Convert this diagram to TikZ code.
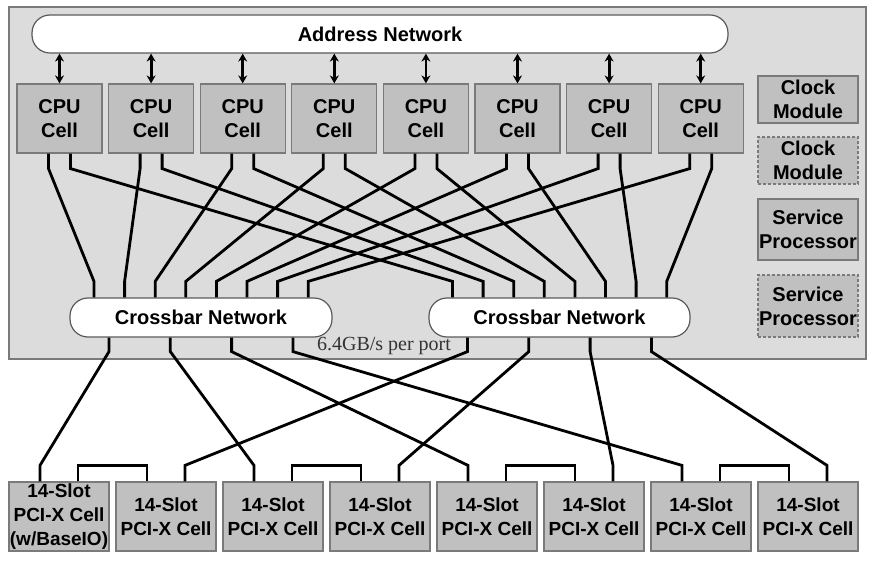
\documentclass[tikz,border=0pt]{standalone}
\usepackage{fontspec}
\setmainfont{Liberation Serif}
\newfontfamily\labelfont{Liberation Sans}
\usetikzlibrary{arrows.meta}
\definecolor{panel}{HTML}{DCDCDC}
\definecolor{cellfill}{HTML}{C0C0C0}
\definecolor{cellline}{HTML}{7A7A7A}
\definecolor{busline}{HTML}{5A5A5A}
\tikzset{
  unit/.style={draw=cellline, fill=cellfill, line width=1.2pt, inner sep=0pt, align=center,
    font=\labelfont\bfseries\fontsize{20}{24}\selectfont},
  cpucell/.style={unit, minimum width=85pt, minimum height=69pt},
  pcicell/.style={unit, minimum width=100pt, minimum height=69pt,
    font=\labelfont\bfseries\fontsize{19}{24}\selectfont},
  sidebox/.style={unit, minimum width=100pt},
  spare/.style={dash pattern=on 3pt off 2pt},
  bus/.style={draw=busline, fill=white, line width=1.2pt, rounded corners=18pt, inner sep=0pt,
    font=\labelfont\bfseries\fontsize{20}{24}\selectfont},
  link/.style={line width=2.8pt},
  biarrow/.style={line width=2.8pt, {Stealth[length=8pt,width=9pt]}-{Stealth[length=8pt,width=9pt]}}
}
\begin{document}
\begin{tikzpicture}[x=1pt, y=-1pt]
    \useasboundingbox (0,0) rectangle (869,561);

    % Cabinet backplane
    \draw[draw=cellline, fill=panel, line width=1.3pt] (9,7) rectangle (866,359);

    % Address network and CPU cells
    \node[bus, minimum width=696pt, minimum height=38pt] (addr) at (380,34) {Address Network};
    \foreach \i in {1,...,8}
        \node[cpucell] (cpu\i) at ({59.5+91.6*(\i-1)},118.5) {CPU\\Cell};
    \foreach \i in {1,...,8}
        \draw[biarrow] (cpu\i.north) -- (cpu\i.north |- addr.south);

    % Clock modules and service processors (dashed = redundant)
    \node[sidebox, minimum height=47pt] (clk1) at (808,99.5) {Clock\\Module};
    \node[sidebox, spare, minimum height=47pt] (clk2) at (808,160.5) {Clock\\Module};
    \node[sidebox, minimum height=61pt] (svc1) at (808,229.5) {Service\\Processor};
    \node[sidebox, spare, minimum height=62pt] (svc2) at (808,306) {Service\\Processor};

    % Crossbar networks
    \node[bus, minimum width=262pt, minimum height=39pt] (xbarA) at (201,317.5) {Crossbar Network};
    \node[bus, minimum width=261pt, minimum height=39pt] (xbarB) at (559.5,317.5) {Crossbar Network};
    \node[anchor=base, text=black!80, font=\fontsize{20}{24}\selectfont] (rate) at (384,350) {6.4GB/s per port};

    % CPU cell i -> port i on both crossbars
    \foreach \i in {1,...,8} {
        \pgfmathsetmacro\port{-107+30.6*(\i-1)}
        \draw[link] ([xshift=-11pt]cpu\i.south) -- ++(0,15)
            -- ([xshift=\port pt, yshift=16pt]xbarA.north) -- ([xshift=\port pt]xbarA.north);
        \draw[link] ([xshift=11pt]cpu\i.south) -- ++(0,15)
            -- ([xshift=\port pt, yshift=16pt]xbarB.north) -- ([xshift=\port pt]xbarB.north);
    }

    % PCI-X cells
    \node[pcicell] (pci1) at (59,516.5) {14-Slot\\PCI-X Cell\\(w/BaseIO)};
    \foreach \i in {2,...,8}
        \node[pcicell] (pci\i) at ({59+107*(\i-1)},516.5) {14-Slot\\PCI-X Cell};

    % Crossbar ports -> PCI-X cells, plus the link joining each pair
    \foreach \j in {1,...,4} {
        \pgfmathsetmacro\port{-92+61.3*(\j-1)}
        \pgfmathtruncatemacro\odd{2*\j-1}
        \pgfmathtruncatemacro\even{2*\j}
        \draw[link] ([xshift=\port pt]xbarA.south) -- ++(0,14)
            -- ([xshift=-19pt, yshift=16pt]pci\odd.north) -- ([xshift=-19pt]pci\odd.north);
        \draw[link] ([xshift=\port pt]xbarB.south) -- ++(0,14)
            -- ([xshift=19pt, yshift=16pt]pci\even.north) -- ([xshift=19pt]pci\even.north);
        \draw[link] ([xshift=19pt]pci\odd.north) -- ++(0,-16) -| ([xshift=-19pt]pci\even.north);
    }
\end{tikzpicture}
\end{document}
